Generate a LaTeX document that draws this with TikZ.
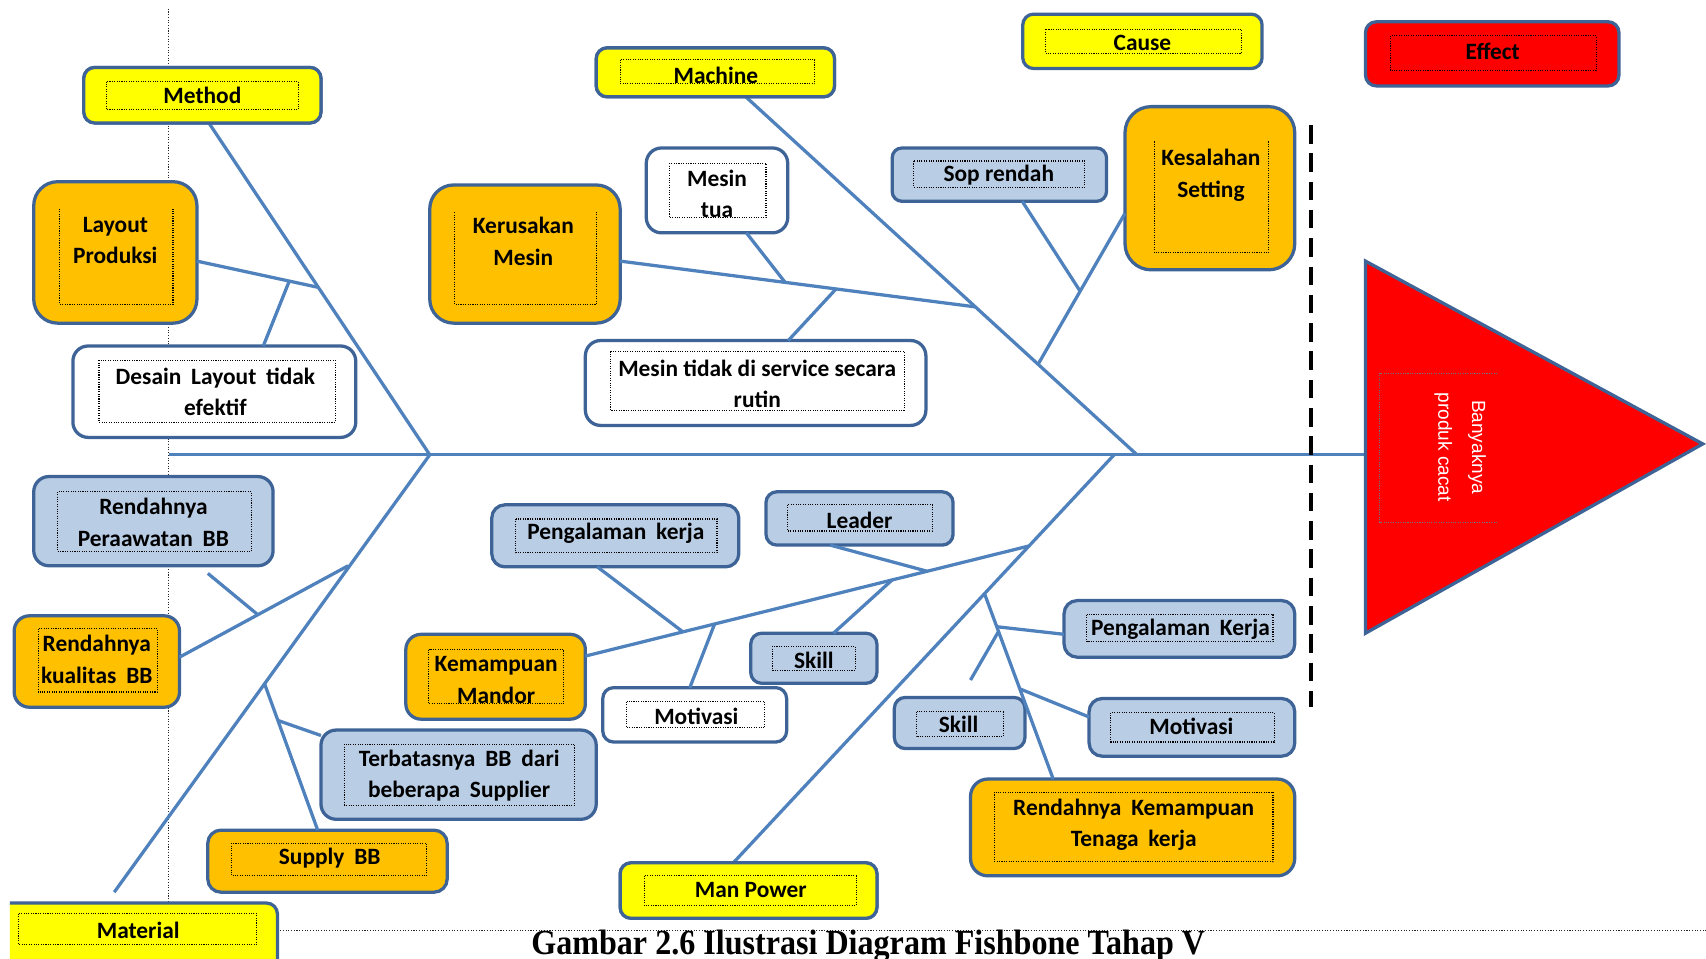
\documentclass[tikz,border=0pt]{standalone}
\usepackage{fontspec}
\setmainfont{Carlito}
\newfontfamily\capfont{Liberation Serif}
\newfontfamily\trifont{Liberation Sans}
\usetikzlibrary{calc}

\definecolor{bone}{HTML}{4F81BD}
\definecolor{edge}{HTML}{3E6396}
\definecolor{ylw}{HTML}{FFFF00}
\definecolor{org}{HTML}{FFC000}
\definecolor{lblue}{HTML}{B9CDE5}
\definecolor{rd}{HTML}{FF0000}

\tikzset{
  bonest/.style={draw=bone, line width=3pt},
  boxst/.style={draw=edge, line width=3pt, rounded corners=#1, inner sep=0pt, outer sep=0pt},
  boxst/.default=10pt,
  frame/.style={draw=black, line width=1pt, dash pattern=on 1pt off 1.2pt},
  lab/.style={font=\bfseries\fontsize{21.5}{29}\selectfont, align=center, inner sep=0pt, text=black},
  guide/.style={draw=black!85, line width=1pt, dash pattern=on 1pt off 1.5pt},
}

% box: [radius] name fill x1 y1 x2 y2
\newcommand\cbox[7][10pt]{\node[boxst=#1, fill=#3, minimum width={#6pt-#4pt}, minimum height={#7pt-#5pt}] (#2) at ({(#4+#6)/2},{(#5+#7)/2}) {};}
% dotted text frame, closed and open at the top
\newcommand\frm[4]{\draw[frame] (#1,#2) rectangle (#3,#4);}
\newcommand\frmo[4]{\draw[frame] (#1,#2) -- (#1,#4) -- (#3,#4) -- (#3,#2);}
% label: name x y text
\newcommand\lbl[4]{\node[lab] (#1) at (#2,#3) {#4};}
\newcommand\ws{\hspace{0.42em}}

\begin{document}
\begin{tikzpicture}[x=1pt, y=-1pt]
\useasboundingbox (0,0) rectangle (1568,881);
\clip (0,0) rectangle (1568,881);

% guide lines
\coordinate (gTop) at (155,8);
\coordinate (gBot) at (155,830);
\draw[guide] (gTop) -- (gBot);
\coordinate (hL) at (255,855);
\coordinate (hR) at (1568,855);
\draw[guide] (hL) -- (hR);

% junction points on the bones
\coordinate (spineL) at (155,418);
\coordinate (head) at (1255,418);
\coordinate (jM) at (395,418);
\coordinate (jC) at (1045,418);
\coordinate (jP) at (1024,418);
\coordinate (matEnd) at (105,820);
\coordinate (mLay) at (292,264);
\coordinate (mLayD) at (266,258);
\coordinate (cKer) at (896,282);
\coordinate (cTua) at (722,260);
\coordinate (cSrv) at (768,266);
\coordinate (cKes) at (954,335);
\coordinate (cSop) at (993,268);
\coordinate (tKual) at (320,520);
\coordinate (tPerS) at (191,527);
\coordinate (tPer) at (237,565);
\coordinate (tSup) at (243,628);
\coordinate (tTer) at (255,662);
\coordinate (pKem) at (945,502);
\coordinate (pPeng) at (628,581);
\coordinate (pMot) at (657,573);
\coordinate (pLead) at (852,525);
\coordinate (pSkill) at (820,533);
\coordinate (pSub) at (905,546);
\coordinate (qPeng) at (916,576);
\coordinate (qSkill) at (918,580);
\coordinate (qSkillE) at (892,625);
\coordinate (qMot) at (937,633);

% boxes
\cbox{method}{ylw}{77}{62}{295}{113}
\cbox{machine}{ylw}{548}{44}{767}{89}
\cbox{cause}{ylw}{940}{13}{1160}{63}
\cbox{effect}{rd}{1255}{20}{1488}{79}
\cbox[22pt]{layout}{org}{31}{167}{181}{297}
\cbox[14pt]{desain}{white}{67}{318}{327}{402}
\cbox[22pt]{kerusakan}{org}{395}{170}{570}{297}
\cbox[14pt]{mesintua}{white}{594}{136}{724}{214}
\cbox[14pt]{service}{white}{538}{313}{851}{391}
\cbox[9pt]{sop}{lblue}{820}{136}{1017}{185}
\cbox[24pt]{kesalahan}{org}{1034}{98}{1190}{248}
\cbox[14pt]{perawatan}{lblue}{31}{438}{251}{520}
\cbox[14pt]{kualitas}{org}{13}{566}{165}{650}
\cbox[14pt]{terbatas}{lblue}{295}{671}{548}{753}
\cbox[12pt]{supply}{org}{191}{763}{411}{820}
\cbox{manpower}{ylw}{570}{793}{806}{844}
\cbox[14pt]{kemampuan}{org}{373}{583}{538}{661}
\cbox[12pt]{pengkerja}{lblue}{452}{464}{679}{521}
\cbox{motivasiA}{white}{554}{632}{723}{682}
\cbox{leader}{lblue}{704}{452}{876}{501}
\cbox{skillA}{lblue}{690}{582}{806}{628}
\cbox[12pt]{pengkerjaB}{lblue}{978}{552}{1190}{604}
\cbox{skillB}{lblue}{822}{641}{942}{688}
\cbox[12pt]{motivasiB}{lblue}{1001}{642}{1190}{695}
\cbox[16pt]{tenaga}{org}{892}{716}{1190}{805}
\begin{scope}
  \clip (9,820) rectangle (300,881);
  \node[boxst, fill=ylw, minimum width=265pt, minimum height=65pt] (material) at (122.5,862.5) {};
\end{scope}

% bones
\begin{scope}[bonest]
  \draw (spineL) -- (head);
  \draw ([xshift=6pt]method.south) -- (jM) -- (matEnd);
  \draw ([xshift=28pt]machine.south) -- (jC);
  \draw ([xshift=-14pt]manpower.north) -- (jP);
  % method
  \draw ([yshift=-8pt]layout.east) -- (mLay);
  \draw (mLayD) -- ([xshift=45pt]desain.north);
  % machine
  \draw ([yshift=-6.5pt]kerusakan.east) -- (cKer);
  \draw ([xshift=27pt]mesintua.south) -- (cTua);
  \draw (cSrv) -- ([xshift=30pt]service.north);
  \draw ([yshift=-23pt]kesalahan.west) -- (cKes);
  \draw ([xshift=21pt]sop.south) -- (cSop);
  % material
  \draw ([yshift=4pt]kualitas.east) -- (tKual);
  \draw (tPerS) -- (tPer);
  \draw (tSup) -- ([xshift=-9pt]supply.north);
  \draw (tTer) -- ([yshift=-5pt]terbatas.north west);
  % man power
  \draw ([yshift=19pt]kemampuan.east) -- (pKem);
  \draw ([xshift=-16.5pt]pengkerja.south) -- (pPeng);
  \draw (pMot) -- ([xshift=-4.5pt]motivasiA.north);
  \draw ([xshift=-27pt]leader.south) -- (pLead);
  \draw ([xshift=18pt]skillA.north) -- (pSkill);
  \draw (pSub) -- ([xshift=-73pt]tenaga.north);
  \draw (qPeng) -- ([yshift=-5pt]pengkerjaB.west);
  \draw (qSkill) -- (qSkillE);
  \draw (qMot) -- ([yshift=9.5pt]motivasiB.west);
\end{scope}

% redraw boxes that sit on top of bone ends
\cbox{method}{ylw}{77}{62}{295}{113}
\cbox{machine}{ylw}{548}{44}{767}{89}
\cbox{manpower}{ylw}{570}{793}{806}{844}

% dotted text frames
\frm{98}{75}{274}{101}
\frm{570}{55}{749}{77}
\frm{961}{27}{1141}{49}
\frm{1278}{33}{1467}{65}
\frmo{55}{192}{159}{280}
\frm{91}{331}{308}{388}
\frmo{418}{195}{548}{280}
\frm{615}{150}{704}{200}
\frm{561}{323}{831}{377}
\frm{840}{148}{997}{172}
\frmo{1061}{130}{1166}{232}
\frm{53}{452}{231}{507}
\frm{35}{578}{145}{636}
\frm{317}{684}{528}{740}
\frm{213}{775}{392}{805}
\frm{17}{840}{236}{868}
\frm{592}{805}{787}{832}
\frm{394}{597}{518}{647}
\frm{474}{477}{659}{508}
\frm{576}{645}{703}{669}
\frm{724}{464}{857}{488}
\frm{710}{594}{786}{616}
\frm{999}{565}{1170}{590}
\frm{842}{654}{922}{677}
\frm{1021}{655}{1171}{682}
\frm{914}{728}{1170}{792}

% labels
\lbl{method-t}{186}{88}{Method}
\lbl{machine-t}{658}{69}{Machine}
\lbl{cause-t}{1050}{39}{Cause}
\lbl{effect-t}{1372}{47}{Effect}
\lbl{layout-t}{106}{221}{Layout\\Produksi}
\lbl{desain-t}{198}{360}{Desain\ws Layout\ws tidak\\efektif}
\lbl{kerusakan-t}{481}{222}{Kerusakan\\Mesin}
\lbl{mesintua-t}{659}{178}{Mesin\\tua}
\lbl{service-t}{696}{353}{Mesin tidak di service secara\\rutin}
\lbl{sop-t}{918}{161}{Sop rendah}
\lbl{kesalahan-t}{1113}{161}{Kesalahan\\Setting}
\lbl{perawatan-t}{141}{480}{Rendahnya\\Peraawatan\ws BB}
\lbl{kualitas-t}{89}{606}{Rendahnya\\kualitas\ws BB}
\lbl{terbatas-t}{422}{713}{Terbatasnya\ws BB\ws dari\\beberapa\ws Supplier}
\lbl{supply-t}{303}{789}{Supply\ws BB}
\lbl{material-t}{127}{855}{Material}
\lbl{manpower-t}{690}{818}{Man Power}
\lbl{kemampuan-t}{456}{625}{Kemampuan\\Mandor}
\lbl{pengkerja-t}{566}{490}{Pengalaman\ws kerja}
\lbl{motivasiA-t}{640}{658}{Motivasi}
\lbl{leader-t}{790}{478}{Leader}
\lbl{skillA-t}{748}{607}{Skill}
\lbl{pengkerjaB-t}{1085}{578}{Pengalaman\ws Kerja}
\lbl{skillB-t}{881}{666}{Skill}
\lbl{motivasiB-t}{1095}{668}{Motivasi}
\lbl{tenaga-t}{1042}{758}{Rendahnya\ws Kemampuan\\Tenaga\ws kerja}

% head of the fish
\draw[fill=rd, draw=edge, line width=3pt] (1255,240) -- (1565,408) -- (1255,582) -- cycle;
\draw[draw=black!55, line width=1pt, dash pattern=on 1pt off 1.2pt] (1376,343) -- (1268,343) -- (1268,480) -- (1376,480);
\node[font=\trifont\fontsize{17.5}{31}\selectfont, text=white, rotate=-90, align=center, inner sep=0pt] (head-t) at (1342,411) {Banyaknya\\produk cacat};

% dashed separator
\coordinate (dTop) at (1205,115);
\coordinate (dBot) at (1205,650);
\draw[black, line width=3pt, dash pattern=on 17pt off 9pt] (dTop) -- (dBot);

% caption
\node[font=\capfont\bfseries\fontsize{29.5}{30}\selectfont, anchor=base, yscale=1.1, inner sep=0pt] (caption) at (798,877) {Gambar 2.6 Ilustrasi Diagram Fishbone Tahap V};
\end{tikzpicture}
\end{document}
